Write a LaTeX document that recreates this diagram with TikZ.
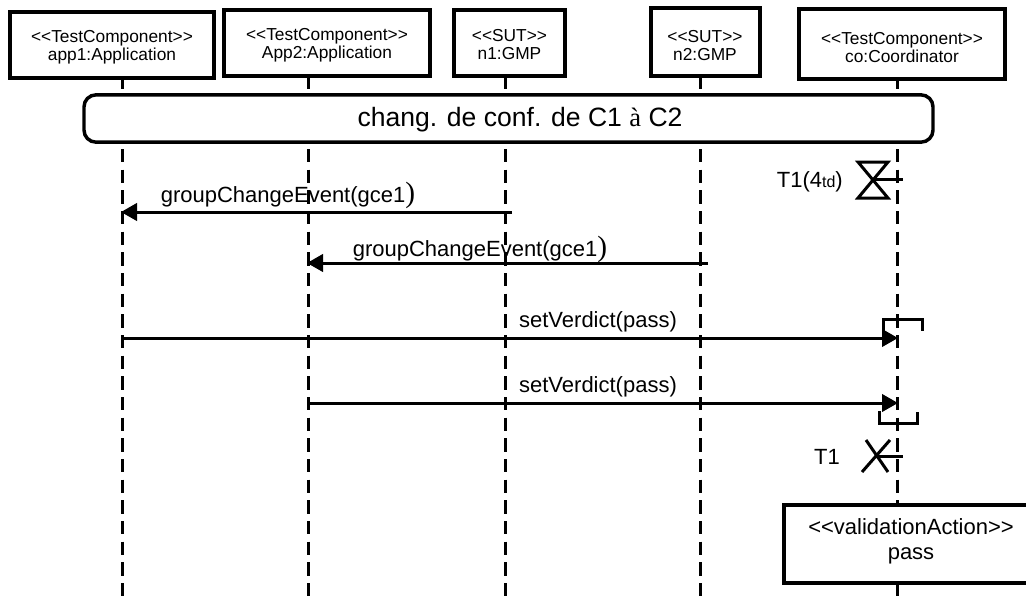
\documentclass[tikz,border=0pt]{standalone}
\usepackage{fontspec}
\setmainfont{Liberation Sans}
\newfontfamily\seriffont{Liberation Serif}
\usetikzlibrary{arrows.meta}
\begin{document}
\begin{tikzpicture}[x=0.75pt,y=-0.75pt,
  hdr/.style={draw,line width=3pt,fill=white,inner sep=0pt},
  htxt/.style={align=center,font=\fontsize{13}{13.5}\selectfont,inner sep=0pt},
  stub/.style={line width=2.25pt},
  life/.style={line width=2.25pt,dash pattern=on 10pt off 5.5pt},
  msg/.style={line width=2.25pt,-{Triangle[length=12pt,width=13pt]}},
  lbl/.style={font=\fontsize{16.5}{16.5}\selectfont,inner sep=0pt},
  sym/.style={line width=2.25pt}
  ]
\useasboundingbox (0,0) rectangle (1026,597);
\clip (0,0) rectangle (1026,597);
\fill[white] (0,0) rectangle (1026,597);

% lifeline coordinates
\foreach \n/\x in {1/122,2/308,3/505,4/700,5/897}{
  \coordinate (l\n a) at (\x,70);
  \coordinate (l\n b) at (\x,89);
  \coordinate (l\n c) at (\x,149);
  \coordinate (l\n d) at (\x,600);
}
\foreach \n in {1,...,5}{
  \draw[stub] (l\n a) -- (l\n b);
  \draw[life] (l\n c) -- (l\n d);
}

% heads
\node[hdr,minimum width=153pt,minimum height=49.5pt] (h1) at (112,45) {};
\node[htxt] (h1t) at (112,47) {<{}<TestComponent>{}>\\app1:Application};
\node[hdr,minimum width=154.5pt,minimum height=49.5pt] (h2) at (327,43) {};
\node[htxt] (h2t) at (327,45) {<{}<TestComponent>{}>\\App2:Application};
\node[hdr,minimum width=83.25pt,minimum height=49.5pt] (h3) at (509.5,43) {};
\node[htxt] (h3t) at (509.5,45) {<{}<SUT>{}>\\n1:GMP};
\node[hdr,minimum width=81.75pt,minimum height=51pt] (h4) at (705,42) {};
\node[htxt] (h4t) at (705,46) {<{}<SUT>{}>\\n2:GMP};
\node[hdr,minimum width=154.5pt,minimum height=52pt] (h5) at (902,44) {};
\node[htxt] (h5t) at (902,48) {<{}<TestComponent>{}>\\co:Coordinator};

% interaction use
\node[draw,line width=2.6pt,rounded corners=9pt,fill=white,
  minimum width=636.75pt,minimum height=35.5pt,inner sep=0pt] (frag) at (508.5,118.5) {};
\node[inner sep=0pt,font=\fontsize{19.9}{19.9}\selectfont] (fragt) at (520,120)
  {chang. de conf. de C1 {\seriffont à} C2};

% messages
\coordinate (m1a) at (512,212); \coordinate (m1b) at (121,212);
\draw[msg] (m1a) -- (m1b);
\node[lbl] (t1) at (288,195) {groupChangeEvent(gce1{\seriffont\fontsize{22}{22}\selectfont )}};

\coordinate (m2a) at (708,263); \coordinate (m2b) at (307,263);
\draw[msg] (m2a) -- (m2b);
\node[lbl] (t2) at (480,249) {groupChangeEvent(gce1{\seriffont\fontsize{22}{22}\selectfont )}};

\coordinate (m3a) at (122,338); \coordinate (m3b) at (898,338);
\draw[msg] (m3a) -- (m3b);
\node[lbl] (t3) at (598,322) {setVerdict(pass)};

\coordinate (m4a) at (308,403); \coordinate (m4b) at (898,403);
\draw[msg] (m4a) -- (m4b);
\node[lbl] (t4) at (598,387) {setVerdict(pass)};

% coregion brackets
\draw[sym] (883,332) -- (883,319) -- (922,319) -- (922,331);
\draw[sym] (879,411) -- (879,423) -- (917,423) -- (917,412);

% timer start
\draw[sym] (858,162) -- (888,162) -- (858,198) -- (888,198) -- cycle;
\coordinate (ts) at (873,179); \coordinate (tsl) at (903,179);
\draw[sym] (ts) -- (tsl);
\node[lbl,anchor=east] (tl1) at (843,182) {T1(4{\fontsize{12}{12}\selectfont td})};

% timer stop
\draw[sym] (866,440) -- (888,472);
\draw[sym] (890,440) -- (862,472);
\coordinate (te) at (876,456); \coordinate (tel) at (903,456);
\draw[sym] (te) -- (tel);
\node[lbl] (tl2) at (827,457) {T1};

% validation action
\node[draw,line width=3pt,fill=white,
  minimum width=210pt,minimum height=58.5pt,inner sep=0pt] (va) at (924,544) {};
\node[align=center,inner sep=0pt,font=\fontsize{16.5}{19}\selectfont] (vat) at (911,541)
  {<{}<validationAction>{}>\\pass};
\end{tikzpicture}
\end{document}
